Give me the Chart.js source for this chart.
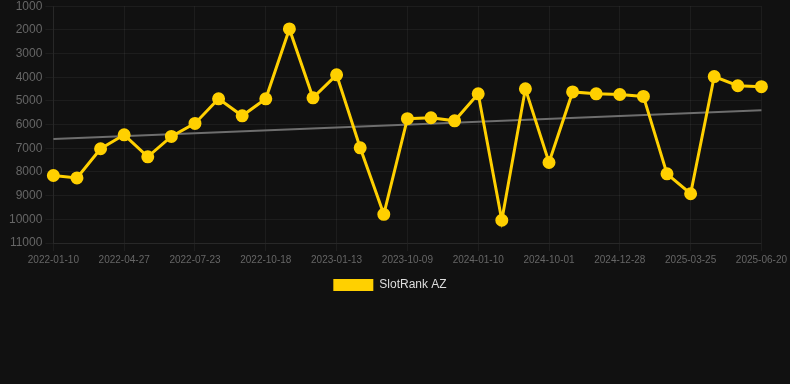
<!DOCTYPE html>
<html>
<head>
<meta charset="utf-8">
<script src="https://cdn.jsdelivr.net/npm/chart.js@4"></script>
<style>
  html, body { margin: 0; padding: 0; background: #111111; overflow: hidden; }
  #wrap { position: relative; width: 790px; height: 305px; margin-top: -4px; }
</style>
</head>
<body>
<div id="wrap"><canvas id="c"></canvas></div>
<script>
// Category labels (only the ones visible on the axis are known; others left blank)
const dates = [
  '2022-01-10', '', '', '2022-04-27', '', '', '2022-07-23', '', '', '2022-10-18', '', '',
  '2023-01-13', '', '', '2023-10-09', '', '', '2024-01-10', '', '', '2024-10-01', '', '',
  '2024-12-28', '', '', '2025-03-25', '', '', '2025-06-20'
];
// SlotRank AZ rank values
const rankValues = [
  8150, 8250, 7020, 6430, 7360, 6500, 5950, 4910, 5630, 4910, 1960, 4870,
  3900, 6980, 9790, 5750, 5710, 5840, 4700, 10040, 4490, 7600, 4620, 4700,
  4730, 4810, 8080, 8920, 3970, 4360, 4400
];
// Trend line end points (start, end)
const trendStart = 6610;
const trendEnd = 5390;
const yTicks = [1000, 11000];

const trendData = dates.map((d, i) => i === 0 ? trendStart : (i === dates.length - 1 ? trendEnd : null));

new Chart(document.getElementById('c'), {
  type: 'line',
  data: {
    labels: dates,
    datasets: [
      {
        label: 'SlotRank AZ',
        data: rankValues,
        borderColor: '#FFD000',
        backgroundColor: '#FFD000',
        borderWidth: 3,
        pointRadius: 5,
        pointHoverRadius: 5,
        pointBackgroundColor: '#FFD000',
        pointBorderColor: '#FFD000',
        tension: 0,
        order: 1
      },
      {
        label: 'Trend',
        data: trendData,
        borderColor: '#6e6e6e',
        backgroundColor: '#6e6e6e',
        borderWidth: 2,
        pointRadius: 0,
        spanGaps: true,
        tension: 0,
        order: 2
      }
    ]
  },
  options: {
    responsive: true,
    maintainAspectRatio: false,
    animation: false,
    layout: { padding: { left: 6, right: 16, top: 0, bottom: 0 } },
    plugins: {
      legend: {
        position: 'bottom',
        labels: {
          color: '#dddddd',
          font: { family: 'Liberation Sans, Arial, sans-serif', size: 12 },
          boxWidth: 40,
          filter: (item) => item.text !== 'Trend',
          generateLabels: (chart) => Chart.defaults.plugins.legend.labels.generateLabels(chart)
            .map(it => Object.assign(it, { lineWidth: 0 }))
        }
      },
      tooltip: { enabled: false }
    },
    scales: {
      x: {
        ticks: {
          color: '#666666',
          font: { family: 'Liberation Sans, Arial, sans-serif', size: 10 },
          maxRotation: 0,
          autoSkip: true
        },
        grid: { color: 'rgba(255,255,255,0.05)' },
        border: { color: 'rgba(255,255,255,0.05)' }
      },
      y: {
        reverse: true,
        min: yTicks[0],
        max: yTicks[1],
        ticks: {
          stepSize: 1000,
          color: '#666666',
          font: { family: 'Liberation Sans, Arial, sans-serif', size: 12 },
          callback: (v) => String(v)
        },
        grid: { color: 'rgba(255,255,255,0.05)' },
        border: { color: 'rgba(255,255,255,0.05)' }
      }
    }
  }
});
</script>
</body>
</html>
